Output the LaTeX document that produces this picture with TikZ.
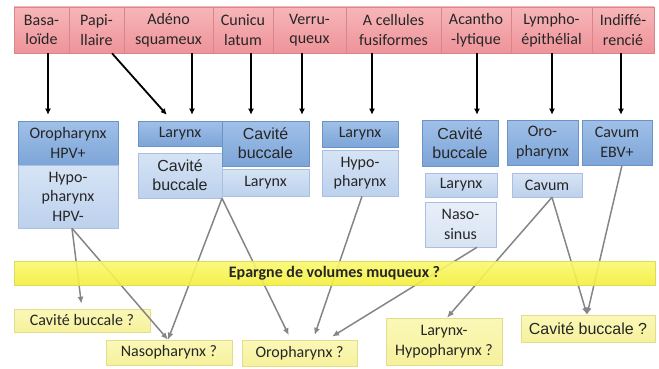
\documentclass[tikz,border=0pt]{standalone}
\usepackage{fontspec}
\setmainfont{Carlito}
\newfontfamily\arialf{Liberation Sans}
\usetikzlibrary{arrows.meta}
\definecolor{redT}{HTML}{F7B6B9}
\definecolor{redB}{HTML}{EE9399}
\definecolor{redD}{HTML}{D9858C}
\definecolor{dbT}{HTML}{A0C0E8}
\definecolor{dbB}{HTML}{7DA5D8}
\definecolor{dbD}{HTML}{6C93C6}
\definecolor{lbT}{HTML}{D6E4F5}
\definecolor{lbB}{HTML}{BDD1ED}
\definecolor{lbD}{HTML}{A9C0E0}
\definecolor{vlT}{HTML}{E8EFF9}
\definecolor{vlB}{HTML}{D8E3F3}
\definecolor{ybT}{HTML}{FAF870}
\definecolor{ybB}{HTML}{F3EF3C}
\definecolor{ybD}{HTML}{DEDA5E}
\definecolor{yT}{HTML}{FBF8B8}
\definecolor{yB}{HTML}{F5F19C}
\definecolor{yD}{HTML}{E2DD8E}
\definecolor{garrow}{HTML}{858585}
\tikzset{
  txt/.style={font=\fontsize{16}{19.5}\selectfont, align=center, inner sep=0pt, text=black!85},
  redbox/.style={txt, draw=redD, top color=redT, bottom color=redB, line width=0.6pt, minimum height=46pt},
  darkbox/.style={txt, draw=dbD, top color=dbT, bottom color=dbB, line width=0.6pt},
  lightbox/.style={txt, draw=lbD, top color=lbT, bottom color=lbB, line width=0.6pt},
  vlightbox/.style={txt, draw=lbD, top color=vlT, bottom color=vlB, line width=0.6pt},
  band/.style={txt, draw=ybD, top color=ybT, bottom color=ybB, line width=0.6pt, fill opacity=0.9, text opacity=1},
  ybox/.style={txt, draw=yD, top color=yT, bottom color=yB, line width=0.6pt},
  blk/.style={line width=1.8pt, -{Latex[length=6pt,width=6pt]}},
  garr/.style={line width=1.5pt, draw=garrow, -{Latex[length=7pt,width=6pt]}},
  ar/.style={font=\arialf\fontsize{16}{19}\selectfont}
}
\begin{document}
\begin{tikzpicture}[x=1pt,y=-1pt]
\useasboundingbox (0,0) rectangle (659,369);
% top row
\node[redbox, minimum width=55pt] (basa) at (41.5,30) {Basa-\\loïde};
\node[redbox, minimum width=55pt] (papi) at (96.5,30) {Papi-\\llaire};
\node[redbox, minimum width=89pt] (adeno) at (168.5,30) {Adéno\\squameux};
\node[redbox, minimum width=60pt] (cunicu) at (243,30) {Cunicu\\latum};
\node[redbox, minimum width=73pt] (verru) at (309.5,30) {Verru-\\queux};
\node[redbox, minimum width=95pt] (acell) at (393.5,30) {A cellules\\fusiformes};
\node[redbox, minimum width=70pt] (acantho) at (476,30) {Acantho\\-lytique};
\node[redbox, minimum width=81pt] (lympho) at (551.5,30) {Lympho-\\épithélial};
\node[redbox, minimum width=62pt] (indiff) at (623,30) {Indiffé-\\rencié};
% blue boxes
\node[darkbox, minimum width=100pt, minimum height=44pt] (oroHPV) at (68,143) {Oropharynx\\HPV+};
\node[lightbox, minimum width=100pt, minimum height=63pt] (hypoHPV) at (68,196.5) {Hypo-\\pharynx\\HPV-};
\node[darkbox, minimum width=84pt, minimum height=25pt] (lar1) at (180,133.5) {Larynx};
\node[lightbox, ar, minimum width=84pt, minimum height=45pt] (cav1) at (180,175.5) {Cavité\\buccale};
\node[darkbox, ar, minimum width=87pt, minimum height=45pt] (cav2) at (265.5,143.5) {Cavité\\buccale};
\node[lightbox, minimum width=87pt, minimum height=27pt] (lar2) at (265.5,182.5) {Larynx};
\node[darkbox, minimum width=76pt, minimum height=26pt] (lar3) at (360,134) {Larynx};
\node[lightbox, minimum width=76pt, minimum height=46pt] (hypo3) at (360,173) {Hypo-\\pharynx};
\node[darkbox, ar, minimum width=76pt, minimum height=46pt] (cav3) at (460,143) {Cavité\\buccale};
\node[lightbox, minimum width=72pt, minimum height=24pt] (lar4) at (461,185) {Larynx};
\node[vlightbox, minimum width=71pt, minimum height=45pt] (naso) at (460.5,224.5) {Naso-\\sinus};
\node[darkbox, minimum width=71pt, minimum height=45pt] (oro4) at (542.5,142.5) {Oro-\\pharynx};
\node[lightbox, minimum width=70pt, minimum height=24pt] (cavum) at (547,185) {Cavum};
\node[darkbox, minimum width=70pt, minimum height=45pt] (cavEBV) at (617,142.5) {Cavum\\EBV+};
% bottom boxes
\node[ybox, minimum width=136pt, minimum height=23pt] (cb1) at (82,320.5) {Cavité buccale ?};
\node[ybox, minimum width=126pt, minimum height=25pt] (nasoq) at (169,352.5) {Nasopharynx ?};
\node[ybox, minimum width=115pt, minimum height=26pt] (oroq) at (299.5,353) {Oropharynx ?};
\node[ybox, minimum width=116pt, minimum height=47pt] (larhyp) at (444,341.5) {Larynx-\\Hypopharynx ?};
\node[ybox, ar, minimum width=134pt, minimum height=27pt] (cb2) at (588,328.5) {Cavité buccale ?};
% x positions of the black arrows
\coordinate (xa) at (48,0);
\coordinate (xc) at (192,0);
\coordinate (xd) at (251,0);
\coordinate (xe) at (302,0);
\coordinate (xf) at (372,0);
\coordinate (xg) at (477,0);
\coordinate (xh) at (552,0);
\coordinate (xi) at (621,0);
\coordinate (xb) at (112,0);
\coordinate (xbt) at (172,0);
\draw[blk, shorten >=6pt] (basa.south -| xa) -- (oroHPV.north -| xa);
\draw[blk, shorten >=8pt] (papi.south -| xb) -- (lar1.north -| xbt);
\draw[blk, shorten >=6pt] (adeno.south -| xc) -- (lar1.north -| xc);
\draw[blk, shorten >=6pt] (cunicu.south -| xd) -- (cav2.north -| xd);
\draw[blk, shorten >=6pt] (verru.south -| xe) -- (cav2.north -| xe);
\draw[blk, shorten >=6pt] (acell.south -| xf) -- (lar3.north -| xf);
\draw[blk, shorten >=5pt] (acantho.south -| xg) -- (cav3.north -| xg);
\draw[blk, shorten >=5pt] (lympho.south -| xh) -- (oro4.north -| xh);
\draw[blk, shorten >=5pt] (indiff.south -| xi) -- (cavEBV.north -| xi);
% gray connectors
\coordinate (g1) at (72,0);
\coordinate (g2) at (82,0);
\coordinate (g3) at (168,0);
\coordinate (g4) at (222,0);
\coordinate (g5) at (291,0);
\coordinate (g6) at (313,0);
\coordinate (g7) at (362,0);
\coordinate (g8) at (327,0);
\coordinate (g9) at (477,0);
\coordinate (g10) at (552,0);
\coordinate (g11) at (447,0);
\coordinate (g12) at (587,0);
\coordinate (g13) at (622,0);
\draw[garr, shorten >=5pt] (hypoHPV.south -| g1) -- (cb1.north -| g2);
\draw[garr] (hypoHPV.south -| g1) -- (nasoq.north -| g3);
\draw[garr] (cav1.south -| g4) -- (nasoq.north -| g3);
\draw[garr, shorten >=5pt] (cav1.south -| g4) -- (oroq.north -| g5);
\draw[garr, shorten >=5pt] (hypo3.south -| g7) -- (oroq.north -| g6);
\draw[garr, shorten >=6pt] (naso.south -| g9) -- (oroq.north -| g8);
\draw[garr] (cavum.south -| g10) -- (larhyp.north -| g11);
\draw[garr] (cavum.south -| g10) -- (cb2.north -| g12);
\draw[garr] (cavEBV.south -| g13) -- (cb2.north -| g12);
% band (drawn over the connectors, slightly transparent)
\node[band, minimum width=641pt, minimum height=24pt, font=\bfseries\fontsize{16}{19}\selectfont] (bandbox) at (334.5,273) {Epargne de volumes muqueux ?};
\end{tikzpicture}
\end{document}
